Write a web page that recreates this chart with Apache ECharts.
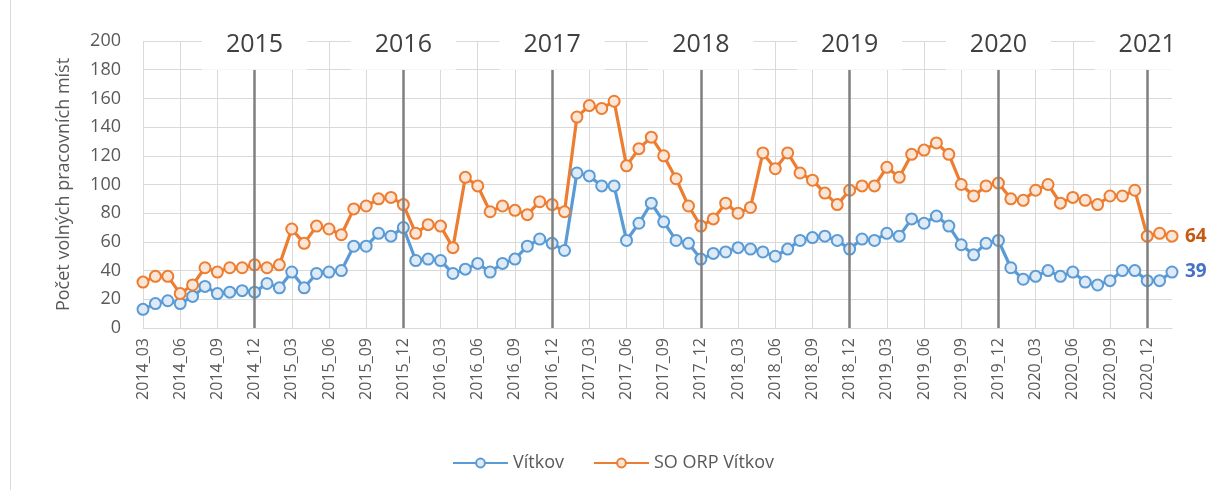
<!DOCTYPE html>
<html>
<head>
<meta charset="utf-8">
<script src="https://cdn.jsdelivr.net/npm/echarts@6/dist/echarts.min.js"></script>
<style>
html,body{margin:0;padding:0;background:#fff;}
#frame{position:absolute;left:10px;top:0;width:1px;height:490px;background:#d9d9d9;}
#chart{width:1209px;height:490px;}
</style>
</head>
<body>
<div id="chart"></div>
<div id="frame"></div>
<script>
const categories = [
 '2014_03','2014_04','2014_05','2014_06','2014_07','2014_08','2014_09','2014_10','2014_11','2014_12',
 '2015_01','2015_02','2015_03','2015_04','2015_05','2015_06','2015_07','2015_08','2015_09','2015_10','2015_11','2015_12',
 '2016_01','2016_02','2016_03','2016_04','2016_05','2016_06','2016_07','2016_08','2016_09','2016_10','2016_11','2016_12',
 '2017_01','2017_02','2017_03','2017_04','2017_05','2017_06','2017_07','2017_08','2017_09','2017_10','2017_11','2017_12',
 '2018_01','2018_02','2018_03','2018_04','2018_05','2018_06','2018_07','2018_08','2018_09','2018_10','2018_11','2018_12',
 '2019_01','2019_02','2019_03','2019_04','2019_05','2019_06','2019_07','2019_08','2019_09','2019_10','2019_11','2019_12',
 '2020_01','2020_02','2020_03','2020_04','2020_05','2020_06','2020_07','2020_08','2020_09','2020_10','2020_11','2020_12',
 '2021_01','2021_02'
];
const vitkov = [
 13,17,19,17,22,29,24,25,26,25,31,28,39,28,38,39,40,
 57,57,66,64,70,47,48,47,38,41,45,39,45,48,57,62,
 59,54,108,106,99,99,61,73,87,74,61,59,48,52,53,56,
 55,53,50,55,61,63,64,61,55,62,61,66,64,76,73,78,71,
 58,51,59,61,42,34,36,40,36,39,32,30,33,40,40,33,33,39
];
const soOrpVitkov = [
 32,36,36,24,30,42,39,42,42,44,42,44,69,59,71,69,65,
 83,85,90,91,86,66,72,71,56,105,99,81,85,82,79,88,
 86,81,147,155,153,158,113,125,133,120,104,85,71,76,87,80,
 84,122,111,122,108,103,94,86,96,99,99,112,105,121,124,129,121,
 100,92,99,101,90,89,96,100,87,91,89,86,92,92,96,64,66,64
];
const yearLabels = ['2015','2016','2017','2018','2019','2020','2021'];
const yearBreaks = ['2014_12','2015_12','2016_12','2017_12','2018_12','2019_12','2020_12'];
const yTicks = {min: 0, max: 200, interval: 20};

const FONT = '"Open Sans", "Noto Sans", sans-serif';
const chart = echarts.init(document.getElementById('chart'), null, {renderer: 'canvas'});

function lineSeries(name, data, color, fill, labelColor) {
  return {
    name: name,
    type: 'line',
    data: data,
    symbol: 'circle',
    symbolSize: 11,
    showAllSymbol: true,
    lineStyle: {color: color, width: 3.2},
    itemStyle: {color: fill, borderColor: color, borderWidth: 2},
    emphasis: {disabled: true},
    endLabel: {
      show: true,
      distance: 13,
      formatter: p => String(p.value),
      color: labelColor,
      fontFamily: FONT,
      fontSize: 19,
      fontWeight: 'bold'
    },
    z: 3
  };
}

const option = {
  backgroundColor: '#ffffff',
  animation: false,
  textStyle: {fontFamily: FONT},
  grid: {left: 143, right: 37, top: 41, bottom: 162, containLabel: false},
  legend: {
    left: 447,
    top: 449,
    itemWidth: 55,
    itemHeight: 11,
    itemGap: 29,
    textStyle: {color: '#595959', fontSize: 18, fontFamily: FONT},
    data: ['Vítkov', 'SO ORP Vítkov']
  },
  xAxis: {
    type: 'category',
    data: categories,
    boundaryGap: false,
    axisLine: {show: true, lineStyle: {color: '#d9d9d9', width: 1}},
    axisTick: {show: false},
    axisLabel: {
      interval: 2,
      rotate: 90,
      margin: 10,
      color: '#595959',
      fontSize: 16,
      fontFamily: FONT
    },
    splitLine: {show: true, interval: 2, lineStyle: {color: '#d9d9d9', width: 1}}
  },
  yAxis: {
    type: 'value',
    min: yTicks.min,
    max: yTicks.max,
    interval: yTicks.interval,
    name: 'Počet volných pracovních míst',
    nameLocation: 'middle',
    nameGap: 70,
    nameRotate: 90,
    nameTextStyle: {color: '#595959', fontSize: 18, fontFamily: FONT},
    axisLine: {show: false},
    axisTick: {show: false},
    axisLabel: {color: '#595959', fontSize: 18, margin: 22, fontFamily: FONT},
    splitLine: {show: true, lineStyle: {color: '#d9d9d9', width: 1}}
  },
  series: [
    {
      name: 'years',
      type: 'line',
      data: [],
      z: 2,
      silent: true,
      markLine: {
        silent: true,
        symbol: ['none', 'none'],
        lineStyle: {color: '#7f7f7f', width: 2.5, type: 'solid'},
        label: {
          show: true,
          position: 'end',
          distance: 0,
          formatter: '{b}',
          color: '#404040',
          fontSize: 25,
          fontFamily: FONT,
          backgroundColor: '#ffffff',
          padding: [2, 24, 12, 24]
        },
        emphasis: {disabled: true},
        data: yearBreaks.map((c, k) => [
          {coord: [c, 0], name: yearLabels[k]},
          {coord: [c, 180]}
        ])
      }
    },
    lineSeries('Vítkov', vitkov, '#5b9bd5', '#deebf7', '#4472c4'),
    lineSeries('SO ORP Vítkov', soOrpVitkov, '#ed7d31', '#fbe5d6', '#c55a11')
  ]
};
chart.setOption(option);
</script>
</body>
</html>
